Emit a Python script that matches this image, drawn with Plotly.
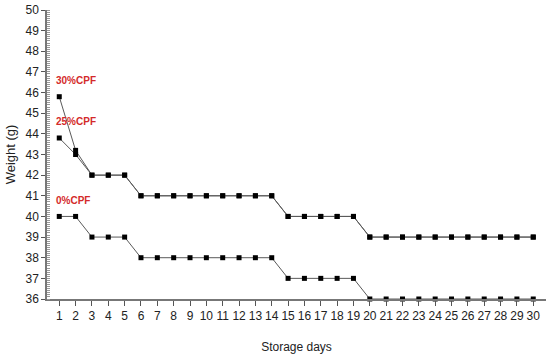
import plotly.graph_objects as go

days = list(range(1, 31))
cpf30 = [45.8, 43.2, 42, 42, 42] + [41]*9 + [40]*5 + [39]*11
cpf25 = [43.8, 43.0, 42, 42, 42] + [41]*9 + [40]*5 + [39]*11
cpf0 = [40, 40, 39, 39, 39] + [38]*9 + [37]*5 + [36]*11
series_names = ["30%CPF", "25%CPF", "0%CPF"]
label_y = [46.6, 44.6, 40.75]

fig = go.Figure()
for name, vals in zip(series_names, [cpf30, cpf25, cpf0]):
    fig.add_trace(go.Scatter(
        x=days, y=vals, mode="lines+markers", name=name,
        line=dict(color="#5a5a5a", width=1),
        marker=dict(symbol="square", size=5, color="black"),
        cliponaxis=False,
    ))

for name, ly in zip(series_names, label_y):
    fig.add_annotation(x=days[0], y=ly, text="<b>" + name + "</b>", showarrow=False,
                       xanchor="left", xshift=-5,
                       font=dict(family="Liberation Sans, Arial", size=10, color="#d42a2a"))

fig.update_layout(
    width=550, height=359,
    margin=dict(l=47, r=4, t=10, b=60),
    paper_bgcolor="white", plot_bgcolor="white",
    showlegend=False,
    font=dict(family="Liberation Sans, Arial", size=12, color="#222222"),
)
fig.update_xaxes(
    range=[0.25, 30.78], tickmode="array", tickvals=days,
    ticks="outside", ticklen=5, tickcolor="#555555",
    showline=True, linecolor="#777777", linewidth=1.5,
    showgrid=False, zeroline=False, automargin=False,
    tickfont=dict(family="Liberation Sans Narrow, Arial Narrow, Liberation Sans", size=12),
    title=dict(text="Storage days", font=dict(size=12), standoff=20),
)
fig.update_yaxes(
    range=[36, 50], dtick=1,
    ticks="outside", ticklen=4, tickcolor="#555555",
    minor=dict(ticks="inside", dtick=0.1, ticklen=3, tickcolor="#999999"),
    showline=True, linecolor="#777777", linewidth=1.5,
    showgrid=False, zeroline=False, automargin=False,
    tickfont=dict(size=12),
    title=dict(text="Weight (g)", font=dict(size=13), standoff=7),
)

fig.write_html("out.html", config={"displayModeBar": False},
               post_script="document.body.style.margin='0';")
